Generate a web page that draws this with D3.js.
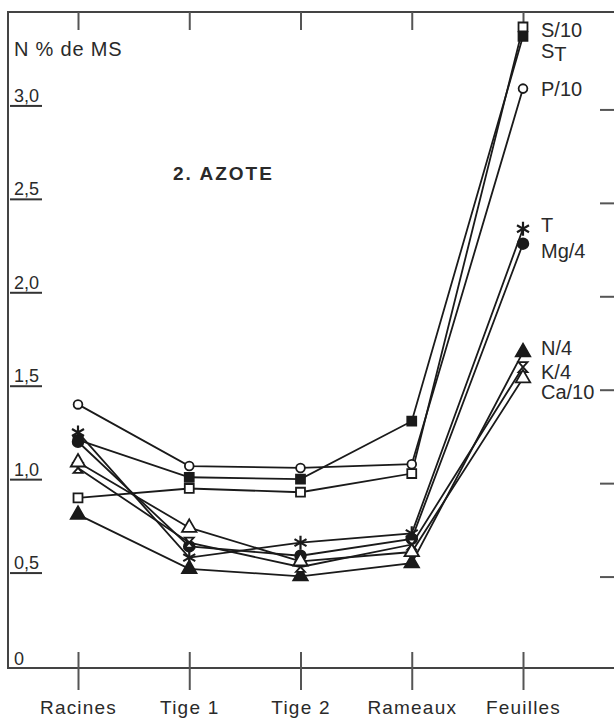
<!DOCTYPE html>
<html lang="fr">
<head>
<meta charset="UTF-8">
<title>2. AZOTE</title>
<script src="https://cdn.jsdelivr.net/npm/d3@7/dist/d3.min.js"></script>
<style>
    body { margin: 0; background: #fff; }
    text { font-family: "Liberation Sans", Arial, sans-serif; fill: #2a2a2a; }
</style>
</head>
<body>
<script type="text/javascript">
    var width = 614;
    var height = 723;

    // organes
    var categories = ["Racines", "Tige 1", "Tige 2", "Rameaux", "Feuilles"];
    var yTicks = [3.0, 2.5, 2.0, 1.5, 1.0, 0.5, 0];
    var yTickLabels = ["3,0", "2,5", "2,0", "1,5", "1,0", "0,5", "0"];

    // teneurs en N (% de MS) par traitement
    var seriesNames = ["S/10", "ST", "P/10", "T", "Mg/4", "N/4", "K/4", "Ca/10"];
    var valS10 = [0.90, 0.95, 0.93, 1.03, 3.42];
    var valST = [1.21, 1.01, 1.00, 1.31, 3.37];
    var valP10 = [1.40, 1.07, 1.06, 1.08, 3.09];
    var valT = [1.25, 0.58, 0.66, 0.71, 2.34];
    var valMg4 = [1.20, 0.64, 0.59, 0.68, 2.26];
    var valN4 = [0.81, 0.52, 0.48, 0.55, 1.68];
    var valK4 = [1.06, 0.66, 0.53, 0.65, 1.60];
    var valCa10 = [1.09, 0.74, 0.56, 0.61, 1.54];
    var seriesValues = [valS10, valST, valP10, valT, valMg4, valN4, valK4, valCa10];

    // style des marqueurs et décalage vertical des étiquettes
    var markers = ["openSquare", "fillSquare", "openCircle", "star", "fillCircle", "fillTri", "hourglass", "openTri"];
    var labelDy = [10, 22, 7, 3, 14, 3, 12, 21];

    var svg = d3.select('body').append('svg')
            .attr('width', width)
            .attr('height', height);

    var x = d3.scalePoint().domain(categories).range([78, 523]);
    var y = d3.scaleLinear().domain([0, 3.5]).range([666, 12]);

    // cadre
    svg.append('path')
            .attr('d', 'M614,12 H8 V668 H614')
            .attr('fill', 'none')
            .attr('stroke', '#444')
            .attr('stroke-width', 2);

    // graduations haut
    svg.append('g')
            .attr('transform', 'translate(0,12)')
            .call(d3.axisBottom(x).tickSize(18).tickFormat(''))
            .call(function (g) {
                g.select('.domain').remove();
                g.selectAll('line').attr('stroke', '#555').attr('stroke-width', 2);
            });

    // graduations bas + noms des organes
    svg.append('g')
            .attr('transform', 'translate(0,652)')
            .call(d3.axisBottom(x).tickSize(38).tickPadding(11))
            .call(function (g) {
                g.select('.domain').remove();
                g.selectAll('line').attr('stroke', '#555').attr('stroke-width', 2);
                g.selectAll('text')
                        .attr('font-size', 19)
                        .attr('letter-spacing', 1.2)
                        .style('font-family', '"Liberation Sans", Arial, sans-serif')
                        .attr('fill', '#2a2a2a');
            });

    // axe gauche : valeurs soulignées
    svg.append('g')
            .attr('transform', 'translate(10,0)')
            .call(d3.axisRight(y).tickValues(yTicks).tickSize(32)
                    .tickFormat(function (d, i) { return yTickLabels[i]; }))
            .call(function (g) {
                g.select('.domain').remove();
                g.selectAll('line').attr('stroke', '#333').attr('stroke-width', 2)
                        .attr('opacity', function (d) { return d === 0 ? 0 : 1; });
                g.selectAll('text')
                        .attr('x', 4)
                        .attr('dy', function (d) { return d === 0 ? -2 : -4; })
                        .attr('text-anchor', 'start')
                        .attr('font-size', 18)
                        .style('font-family', '"Liberation Sans", Arial, sans-serif')
                        .attr('fill', '#2a2a2a');
            });

    // axe droit
    svg.append('g')
            .attr('transform', 'translate(614,4)')
            .call(d3.axisLeft(y).tickValues(yTicks.slice(0, 6)).tickSize(14).tickFormat(''))
            .call(function (g) {
                g.select('.domain').remove();
                g.selectAll('line').attr('stroke', '#555').attr('stroke-width', 2);
            });

    svg.append('text')
            .attr('x', 14).attr('y', 56)
            .attr('font-size', 20)
            .attr('letter-spacing', 0.8)
            .text('N % de MS');

    svg.append('text')
            .attr('x', 173).attr('y', 180)
            .attr('font-size', 19)
            .attr('font-weight', 'bold')
            .attr('letter-spacing', 2)
            .text('2. AZOTE');

    // courbes
    var line = d3.line()
            .x(function (d, i) { return x(categories[i]); })
            .y(function (d) { return y(d); });

    var series = seriesNames.map(function (name, i) {
        return {name: name, values: seriesValues[i], marker: markers[i], dy: labelDy[i]};
    });

    svg.selectAll('.serie')
            .data(series)
            .enter()
            .append('path')
            .attr('class', 'serie')
            .attr('d', function (d) { return line(d.values); })
            .attr('fill', 'none')
            .attr('stroke', '#1a1a1a')
            .attr('stroke-width', 1.8);

    var symbolPath = {
        openSquare: d3.symbol(d3.symbolSquare, 80)(),
        fillSquare: d3.symbol(d3.symbolSquare, 80)(),
        openCircle: d3.symbol(d3.symbolCircle, 60)(),
        fillCircle: d3.symbol(d3.symbolCircle, 90)(),
        fillTri: d3.symbol(d3.symbolTriangle, 90)(),
        openTri: d3.symbol(d3.symbolTriangle, 90)(),
        star: 'M0,-7V7M-6,-3.5L6,3.5M-6,3.5L6,-3.5',
        hourglass: 'M-4.5,-5H4.5L-4.5,5H4.5Z'
    };
    var isOpen = {openSquare: true, openCircle: true, openTri: true, hourglass: true};

    var pts = [];
    series.forEach(function (s) {
        s.values.forEach(function (v, i) {
            pts.push({v: v, c: categories[i], marker: s.marker});
        });
    });

    svg.selectAll('.pt')
            .data(pts)
            .enter()
            .append('path')
            .attr('class', 'pt')
            .attr('transform', function (d) {
                return 'translate(' + x(d.c) + ',' + y(d.v) + ')';
            })
            .attr('d', function (d) { return symbolPath[d.marker]; })
            .attr('fill', function (d) {
                return d.marker === 'star' ? 'none' : (isOpen[d.marker] ? '#fff' : '#1a1a1a');
            })
            .attr('stroke', '#1a1a1a')
            .attr('stroke-width', function (d) { return d.marker === 'star' ? 2.2 : 1.8; });

    // étiquettes à droite des feuilles
    var last = categories[categories.length - 1];
    var labels = svg.selectAll('.lab')
            .data(series)
            .enter()
            .append('text')
            .attr('class', 'lab')
            .attr('x', x(last) + 18)
            .attr('y', function (d) { return y(d.values[4]) + d.dy; })
            .attr('font-size', 20);

    labels.each(function (d) {
        var t = d3.select(this);
        if (d.name === 'ST') {
            t.append('tspan').text('S');
            t.append('tspan').attr('dy', 3).text('T');
        } else {
            t.text(d.name);
        }
    });
</script>
</body>
</html>
